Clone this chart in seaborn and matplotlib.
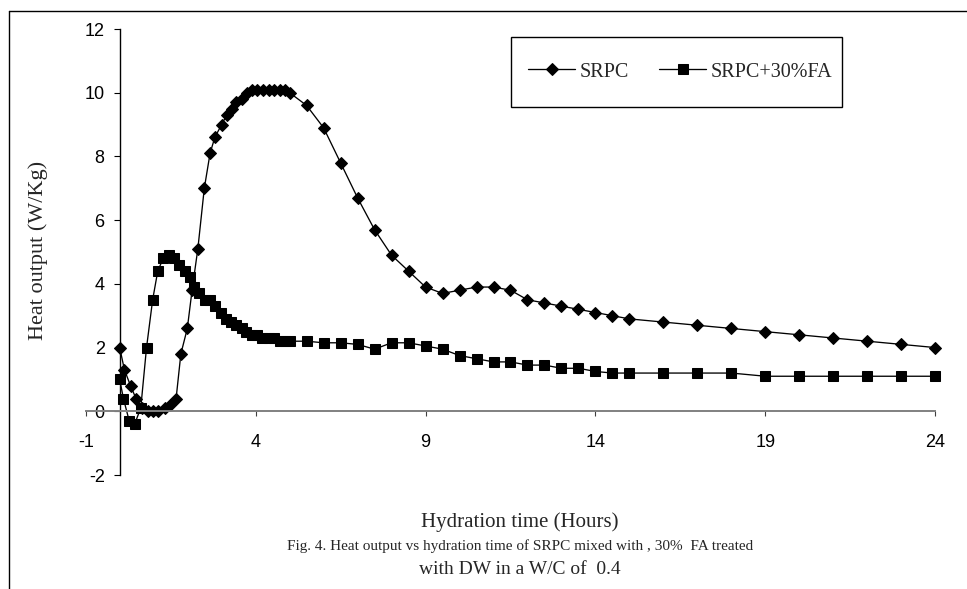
import matplotlib.pyplot as plt
import seaborn as sns
from matplotlib.lines import Line2D
from matplotlib.patches import Rectangle

sns.set_theme(style="white")
plt.rcParams['font.family'] = ['Liberation Sans', 'DejaVu Sans']
plt.rcParams['axes.unicode_minus'] = False

# heat flow readings, SRPC alone
srpc_time = [0, 0.14, 0.32, 0.48, 0.65, 0.82, 0.99, 1.13, 1.33, 1.48, 1.66, 1.8, 1.99,
             2.13, 2.3, 2.49, 2.66, 2.8, 3.0, 3.15, 3.31, 3.43, 3.59, 3.74, 3.88, 4.05,
             4.22, 4.38, 4.55, 4.71, 4.86, 5.0, 5.5, 6.0, 6.5, 7.0, 7.5, 8.0, 8.5, 9.0,
             9.5, 10.0, 10.5, 11.0, 11.5, 12.0, 12.5, 13.0, 13.5, 14.0, 14.5, 15.0,
             16, 17, 18, 19, 20, 21, 22, 23, 24]
srpc_heat = [2.0, 1.3, 0.8, 0.4, 0.1, 0.0, 0.0, 0.0, 0.1, 0.2, 0.4, 1.8, 2.6,
             3.8, 5.1, 7.0, 8.1, 8.6, 9.0, 9.3, 9.5, 9.7, 9.8, 10.0, 10.1, 10.1,
             10.1, 10.1, 10.1, 10.1, 10.1, 10.0, 9.6, 8.9, 7.8, 6.7, 5.7, 4.9, 4.4, 3.9,
             3.7, 3.8, 3.9, 3.9, 3.8, 3.5, 3.4, 3.3, 3.2, 3.1, 3.0, 2.9,
             2.8, 2.7, 2.6, 2.5, 2.4, 2.3, 2.2, 2.1, 2.0]

# SRPC + 30% fly ash
fa_time = [0, 0.11, 0.28, 0.44, 0.62, 0.79, 0.97, 1.12, 1.28, 1.44, 1.6, 1.75, 1.91,
           2.07, 2.2, 2.34, 2.51, 2.66, 2.8, 2.97, 3.13, 3.27, 3.42, 3.59, 3.73, 3.9,
           4.05, 4.2, 4.38, 4.55, 4.71, 4.86, 5.0, 5.5, 6.0, 6.5, 7.0, 7.5, 8.0, 8.5,
           9.0, 9.5, 10.0, 10.5, 11.0, 11.5, 12.0, 12.5, 13.0, 13.5, 14.0, 14.5, 15.0,
           16, 17, 18, 19, 20, 21, 22, 23, 24]
fa_heat = [1.0, 0.4, -0.3, -0.4, 0.1, 2.0, 3.5, 4.4, 4.8, 4.9, 4.8, 4.6, 4.4,
           4.2, 3.9, 3.7, 3.5, 3.5, 3.3, 3.1, 2.9, 2.8, 2.7, 2.6, 2.5, 2.4,
           2.4, 2.3, 2.3, 2.3, 2.2, 2.2, 2.2, 2.2, 2.15, 2.15, 2.1, 1.95, 2.15, 2.15,
           2.05, 1.95, 1.75, 1.65, 1.55, 1.55, 1.45, 1.45, 1.35, 1.35, 1.25, 1.2, 1.2,
           1.2, 1.2, 1.2, 1.1, 1.1, 1.1, 1.1, 1.1, 1.1]

x_ticks = [-1, 4, 9, 14, 19, 24]
y_ticks = [-2, 0, 2, 4, 6, 8, 10, 12]

W, H = 967, 589
fig = plt.figure(figsize=(W / 100, H / 100), dpi=100)
fig.patch.set_facecolor('white')
ax = fig.add_axes([85.7 / W, 1 - 475 / H, (935.3 - 85.7) / W, (475 - 29) / H])

sns.lineplot(x=srpc_time, y=srpc_heat, ax=ax, color='black', marker='D', markersize=6.4,
             markeredgecolor='black', linewidth=0.95, estimator=None, sort=False,
             label='SRPC', clip_on=False)
sns.lineplot(x=fa_time, y=fa_heat, ax=ax, color='black', marker='s', markersize=6.8,
             markeredgecolor='black', linewidth=0.95, estimator=None, sort=False,
             label='SRPC+30%FA', clip_on=False)

ax.set_xlim(-1, 24)
ax.set_ylim(-2, 12)
ax.set_xticks(x_ticks)
ax.set_yticks(y_ticks)
ax.set_xlabel('')
ax.set_ylabel('')

for s in ['top', 'right']:
    ax.spines[s].set_visible(False)
ax.spines['left'].set_position(('data', 0))
ax.spines['left'].set_color('black')
ax.spines['left'].set_linewidth(1.0)
ax.spines['bottom'].set_position(('data', 0))
ax.spines['bottom'].set_color('#808080')
ax.spines['bottom'].set_linewidth(1.4)

ax.tick_params(axis='x', direction='out', length=3.6, width=0.8, color='#404040',
               pad=13, labelsize=13, labelcolor='black', bottom=True)
ax.tick_params(axis='y', direction='out', length=4.3, width=0.8, color='black',
               pad=6.5, labelsize=13, labelcolor='black', left=True)

leg = ax.legend(loc='center left', bbox_to_anchor=(528 / W, 1 - 72 / H),
                bbox_transform=fig.transFigure, ncol=2, frameon=False,
                borderpad=0, borderaxespad=0,
                prop={'family': 'Liberation Serif', 'size': 14.5},
                handlelength=2.35, handletextpad=0.2, columnspacing=1.5)

fig.add_artist(Rectangle((511 / W, 1 - 107 / H), (842 - 511) / W, 70 / H,
                         transform=fig.transFigure, fill=False, edgecolor='black', lw=1))

# outer frame (only top and left are visible in the source)
fig.add_artist(Line2D([9 / W, 1], [1 - 11 / H, 1 - 11 / H], transform=fig.transFigure,
                      color='black', lw=1))
fig.add_artist(Line2D([9 / W, 9 / W], [0, 1 - 11 / H], transform=fig.transFigure,
                      color='black', lw=1))

serif = ['Liberation Serif', 'DejaVu Serif']
fig.text(38 / W, 1 - 250 / H, 'Heat output (W/Kg)', rotation=90, ha='center', va='center',
         family=serif, fontsize=16)
fig.text(520 / W, 1 - 522 / H, 'Hydration time (Hours)', ha='center', va='center',
         family=serif, fontsize=15)
fig.text(520 / W, 1 - 546 / H,
         'Fig. 4. Heat output vs hydration time of SRPC mixed with , 30%  FA treated',
         ha='center', va='center', family=serif, fontsize=11)
fig.text(520 / W, 1 - 570 / H, 'with DW in a W/C of  0.4', ha='center', va='center',
         family=serif, fontsize=14)

fig.savefig('out.png', dpi=100)
